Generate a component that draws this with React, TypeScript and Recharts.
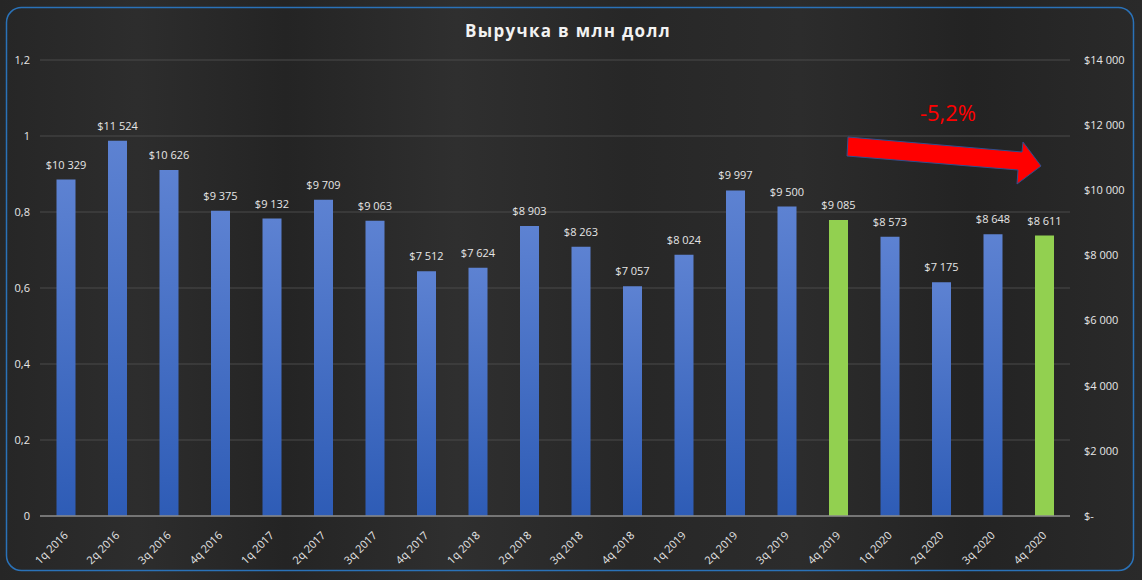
import React from 'react';
import { ComposedChart, Bar, Line, XAxis, YAxis, CartesianGrid, LabelList, Cell } from 'recharts';

const categories = ['1q 2016','2q 2016','3q 2016','4q 2016','1q 2017','2q 2017','3q 2017','4q 2017','1q 2018','2q 2018','3q 2018','4q 2018','1q 2019','2q 2019','3q 2019','4q 2019','1q 2020','2q 2020','3q 2020','4q 2020'];
const revenue = [10329, 11524, 10626, 9375, 9132, 9709, 9063, 7512, 7624, 8903, 8263, 7057, 8024, 9997, 9500, 9085, 8573, 7175, 8648, 8611];
const highlighted = ['4q 2019', '4q 2020'];
const leftTicks = [0, 0.2, 0.4, 0.6, 0.8, 1, 1.2];
const rightTicks = [0, 2000, 4000, 6000, 8000, 10000, 12000, 14000];
const title = 'Выручка в млн долл';
const changeLabel = '-5,2%';

const data = categories.map((q, i) => ({ q, value: revenue[i] }));

const FONT = '"Open Sans", "Noto Sans", sans-serif';
const TXT = '#e6e6e6';

const fmtMoney = (v: number) => {
  if (v === 0) return '$-';
  const s = String(Math.round(v));
  return '$' + s.replace(/\B(?=(\d{3})+(?!\d))/g, ' ');
};
const fmtLeft = (v: number) => String(v).replace('.', ',');

const XTick = (props: any) => {
  const { x, y, payload } = props;
  return (
    <text
      x={x + 3}
      y={y + 12}
      transform={`rotate(-45, ${x + 3}, ${y + 12})`}
      textAnchor="end"
      fill={TXT}
      fontSize={11}
      fontFamily={FONT}
    >
      {payload.value}
    </text>
  );
};

const ValueLabel = (props: any) => {
  const { x, y, width, value } = props;
  return (
    <text x={Number(x) + Number(width) / 2} y={Number(y) - 11} textAnchor="middle" fill={TXT} fontSize={11} fontFamily={FONT}>
      {fmtMoney(Number(value))}
    </text>
  );
};

export default function App() {
  return (
    <div style={{ position: 'absolute', left: 0, top: 0, width: 1142, height: 580, overflow: 'hidden', background: 'linear-gradient(90deg, #262626 0%, #2d2d2d 12%, #242424 25%, #2f2f2f 40%, #272727 55%, #2c2c2c 70%, #232323 85%, #2a2a2a 100%)' }}>
      <svg width={1142} height={580} style={{ position: 'absolute', left: 0, top: 0 }}>
        <rect x={6.5} y={7.5} width={1127} height={563} rx={15} ry={15} fill="none" stroke="#2a72b8" strokeWidth={1.5} />
        <text x={568} y={37} textAnchor="middle" fill="#f2f2f2" fontSize={17} fontWeight="bold" letterSpacing={1.3} fontFamily={FONT}>{title}</text>
      </svg>
      <div style={{ position: 'absolute', left: 0, top: 0 }}>
        <ComposedChart width={1142} height={580} data={data} margin={{ top: 60, right: 0, bottom: 0, left: 0 }} barCategoryGap={16.5}>
          <defs>
            <linearGradient id="blueGrad" x1="0" y1="0" x2="0" y2="1">
              <stop offset="0%" stopColor="#5d82d2" />
              <stop offset="100%" stopColor="#2e5cb6" />
            </linearGradient>
          </defs>
          <CartesianGrid vertical={false} stroke="#4a4a4a" strokeWidth={1} yAxisId="left" />
          <XAxis dataKey="q" height={64} tick={<XTick />} tickLine={false} axisLine={{ stroke: '#8a8a8a', strokeWidth: 1.5 }} interval={0} />
          <YAxis yAxisId="left" type="number" orientation="left" width={40} domain={[0, 1.2]} allowDataOverflow ticks={leftTicks} tickFormatter={fmtLeft} tickLine={false} axisLine={false} tickSize={0} tickMargin={10} tick={{ fill: TXT, fontSize: 11, fontFamily: FONT }} />
          <YAxis yAxisId="right" type="number" orientation="right" width={72} domain={[0, 14000]} ticks={rightTicks} tickFormatter={fmtMoney} tickLine={false} axisLine={false} tickSize={0} tickMargin={14} tick={{ fill: TXT, fontSize: 11, fontFamily: FONT, textAnchor: 'start' }} />
          <Bar yAxisId="right" dataKey="value" isAnimationActive={false} fill="url(#blueGrad)">
            {data.map((d) => (
              <Cell key={d.q} fill={highlighted.includes(d.q) ? '#92d050' : 'url(#blueGrad)'} />
            ))}
            <LabelList dataKey="value" content={<ValueLabel />} />
          </Bar>
          <Line yAxisId="left" dataKey="ghost" stroke="none" dot={false} activeDot={false} legendType="none" isAnimationActive={false} />
        </ComposedChart>
      </div>
      <svg width={1142} height={580} style={{ position: 'absolute', left: 0, top: 0, pointerEvents: 'none' }}>
        <polygon points="848,137 1022,152 1023,142 1041,166 1017,184 1018,170 847,156" fill="#ff0000" stroke="#2f4f8f" strokeWidth={1} />
        <text x={948} y={121} textAnchor="middle" fill="#ff0000" fontSize={22} fontFamily={FONT}>{changeLabel}</text>
      </svg>
    </div>
  );
}
